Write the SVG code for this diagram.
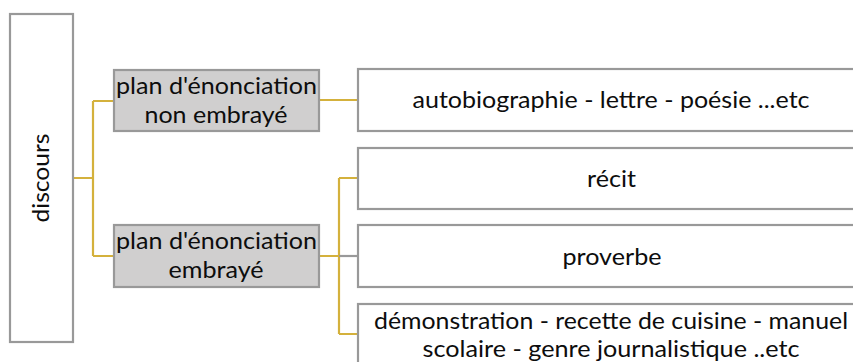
<svg xmlns="http://www.w3.org/2000/svg" width="853" height="362" viewBox="0 0 853 362">
  <style>
    .box { stroke: #999999; stroke-width: 2.2; }
    .root { fill: #ffffff; }
    .mid { fill: #d0cfcf; }
    .leaf { fill: #ffffff; }
    .lbl { font-family: Lato, "Open Sans", sans-serif; font-size: 24px; fill: #0d0d0d; text-anchor: middle; }
    .link { fill: none; stroke: #d4b13c; stroke-width: 2.2; }
    .link-grey { fill: none; stroke: #999999; stroke-width: 2.2; }
  </style>
  <rect width="853" height="362" fill="#ffffff"/>

  <!-- tree connectors -->
  <g id="connectors">
    <path class="link" d="M73,178 H93 M93,101 V256 M93,101 H114 M93,256 H114"/>
    <path class="link" d="M319,100 H358"/>
    <path class="link" d="M319,256 H339 M339,178 V334 M339,178 H358 M339,334 H358"/>
    <path class="link-grey" d="M339,256 H358"/>
  </g>

  <g id="discours">
    <rect class="box root" x="10" y="14" width="63" height="328"/>
    <text class="lbl" transform="translate(49,178) rotate(-90)" textLength="89" lengthAdjust="spacingAndGlyphs">discours</text>
  </g>

  <g id="plan-non-embraye">
    <rect class="box mid" x="114" y="70" width="205" height="61"/>
    <text class="lbl" x="216.5" y="94" textLength="201" lengthAdjust="spacingAndGlyphs">plan d'énonciation</text>
    <text class="lbl" x="216" y="123" textLength="143" lengthAdjust="spacingAndGlyphs">non embrayé</text>
  </g>

  <g id="plan-embraye">
    <rect class="box mid" x="114" y="225" width="205" height="62"/>
    <text class="lbl" x="216.5" y="249" textLength="201" lengthAdjust="spacingAndGlyphs">plan d'énonciation</text>
    <text class="lbl" x="216" y="278" textLength="95" lengthAdjust="spacingAndGlyphs">embrayé</text>
  </g>

  <g id="autobiographie">
    <rect class="box leaf" x="358" y="69" width="508" height="62"/>
    <text class="lbl" x="611" y="108" textLength="397" lengthAdjust="spacingAndGlyphs">autobiographie - lettre - poésie ...etc</text>
  </g>

  <g id="recit">
    <rect class="box leaf" x="358" y="148" width="508" height="61"/>
    <text class="lbl" x="611.5" y="187" textLength="49" lengthAdjust="spacingAndGlyphs">récit</text>
  </g>

  <g id="proverbe">
    <rect class="box leaf" x="358" y="225" width="508" height="62"/>
    <text class="lbl" x="612" y="264.5" textLength="99" lengthAdjust="spacingAndGlyphs">proverbe</text>
  </g>

  <g id="demonstration">
    <rect class="box leaf" x="358" y="304" width="508" height="70"/>
    <text class="lbl" x="611" y="329" textLength="474" lengthAdjust="spacingAndGlyphs">démonstration - recette de cuisine - manuel</text>
    <text class="lbl" x="611" y="357" textLength="377" lengthAdjust="spacingAndGlyphs">scolaire - genre journalistique ..etc</text>
  </g>
</svg>
